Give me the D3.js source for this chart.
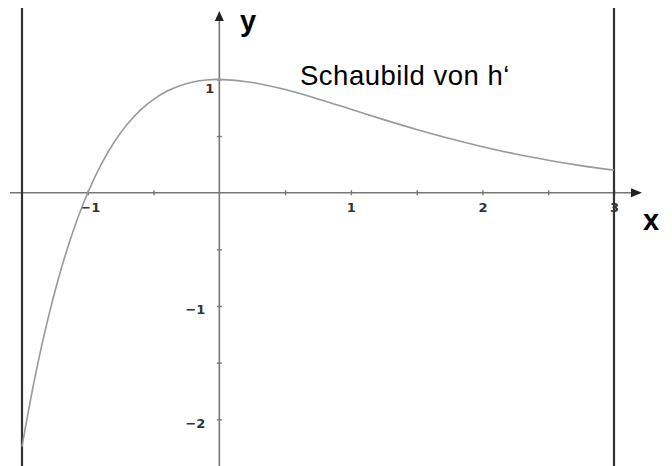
<!DOCTYPE html>
<html>
<head>
<meta charset="utf-8">
<script src="https://cdn.jsdelivr.net/npm/d3@7"></script>
<style>
  body { margin: 0; background: #fff; }
  svg { display: block; }
  .tick text { font-family: "DejaVu Sans", sans-serif; font-weight: bold; font-size: 13px; fill: #333; }
</style>
</head>
<body>
<svg></svg>
<script>
const width = 672;
const height = 466;

const xs = [-1.5, -1.4, -1.3, -1.2, -1.1, -1.0, -0.9, -0.8, -0.7, -0.6, -0.5, -0.4, -0.3, -0.2, -0.1, 0,
            0.25, 0.5, 0.75, 1, 1.25, 1.5, 1.75, 2, 2.25, 2.5, 2.75, 3];
const ys = [-2.24, -1.62, -1.10, -0.664, -0.301, 0, 0.246, 0.445, 0.604, 0.729, 0.824, 0.895, 0.945, 0.977, 0.995, 1.0,
            0.973, 0.910, 0.827, 0.736, 0.645, 0.558, 0.478, 0.406, 0.342, 0.287, 0.239, 0.199];

const xTicks = [-1, -0.5, 0.5, 1, 1.5, 2, 2.5, 3];
const xLabels = ['\u22121', '', '', '1', '', '2', '', '3'];
const yTicks = [-2, -1.5, -1, -0.5, 0.5, 1];
const yLabels = ['\u22122', '', '\u22121', '', '', '1'];
const bounds = [-1.5, 3];

const svg = d3.select('svg')
    .attr('width', width)
    .attr('height', height);

const x = d3.scaleLinear().domain([-1.5, 3]).range([22, 614]);
const y = d3.scaleLinear().domain([-2, 1]).range([419.3, 79.4]);

const axisColor = '#777';

// x axis line + arrow
svg.append('line')
    .attr('x1', 10).attr('x2', 634)
    .attr('y1', y(0)).attr('y2', y(0))
    .attr('stroke', axisColor).attr('stroke-width', 1.6);
svg.append('path')
    .attr('d', `M642,${y(0)} L631,${y(0) - 4.5} L631,${y(0) + 4.5} Z`)
    .attr('fill', '#222');

// y axis line + arrow
svg.append('line')
    .attr('x1', x(0)).attr('x2', x(0))
    .attr('y1', 18).attr('y2', height)
    .attr('stroke', axisColor).attr('stroke-width', 1.6);
svg.append('path')
    .attr('d', `M${x(0)},11 L${x(0) - 4.5},21 L${x(0) + 4.5},21 Z`)
    .attr('fill', '#222');

// ticks through d3 axes
const xAxis = svg.append('g')
    .attr('transform', `translate(0,${y(0)})`)
    .call(d3.axisBottom(x).tickValues(xTicks).tickSize(2.5)
        .tickFormat((d, i) => xLabels[i]));
xAxis.select('.domain').remove();
xAxis.selectAll('.tick line').attr('y1', -2.5).attr('stroke', axisColor).attr('stroke-width', 1.4);
xAxis.selectAll('.tick text').attr('y', 10.5).attr('dx', d => d < 0 ? 2 : 0);

const yAxis = svg.append('g')
    .attr('transform', `translate(${x(0)},0)`)
    .call(d3.axisLeft(y).tickValues(yTicks).tickSize(2.5)
        .tickFormat((d, i) => yLabels[i]));
yAxis.select('.domain').remove();
yAxis.selectAll('.tick line').attr('x1', 2.5).attr('x2', -2.5).attr('stroke', axisColor).attr('stroke-width', 1.4);
yAxis.selectAll('.tick text').attr('x', d => d === 1 ? -5 : -14).attr('dy', d => d === 1 ? '0.97em' : '0.6em');

// vertical boundary lines
svg.selectAll('line.bound')
    .data(bounds)
    .enter().append('line')
    .attr('class', 'bound')
    .attr('x1', d => x(d)).attr('x2', d => x(d))
    .attr('y1', 8).attr('y2', height)
    .attr('stroke', '#333').attr('stroke-width', 2.2);

// curve
const pts = xs.map((v, i) => [v, ys[i]]);
const line = d3.line()
    .x(d => x(d[0]))
    .y(d => y(d[1]))
    .curve(d3.curveCatmullRom);
svg.append('path')
    .datum(pts)
    .attr('d', line)
    .attr('fill', 'none')
    .attr('stroke', '#999')
    .attr('stroke-width', 1.6);

// labels
svg.append('text')
    .attr('x', 240).attr('y', 31)
    .style('font-family', 'Liberation Sans, Arial, sans-serif')
    .style('font-weight', 'bold').style('font-size', '29px')
    .text('y');
svg.append('text')
    .attr('x', 643).attr('y', 230)
    .style('font-family', 'Liberation Sans, Arial, sans-serif')
    .style('font-weight', 'bold').style('font-size', '29px')
    .text('x');
svg.append('text')
    .attr('x', 300).attr('y', 85)
    .style('font-family', 'Liberation Sans, Arial, sans-serif')
    .style('font-size', '27.5px')
    .style('letter-spacing', '0.5px')
    .text('Schaubild von h\u2018');
</script>
</body>
</html>
